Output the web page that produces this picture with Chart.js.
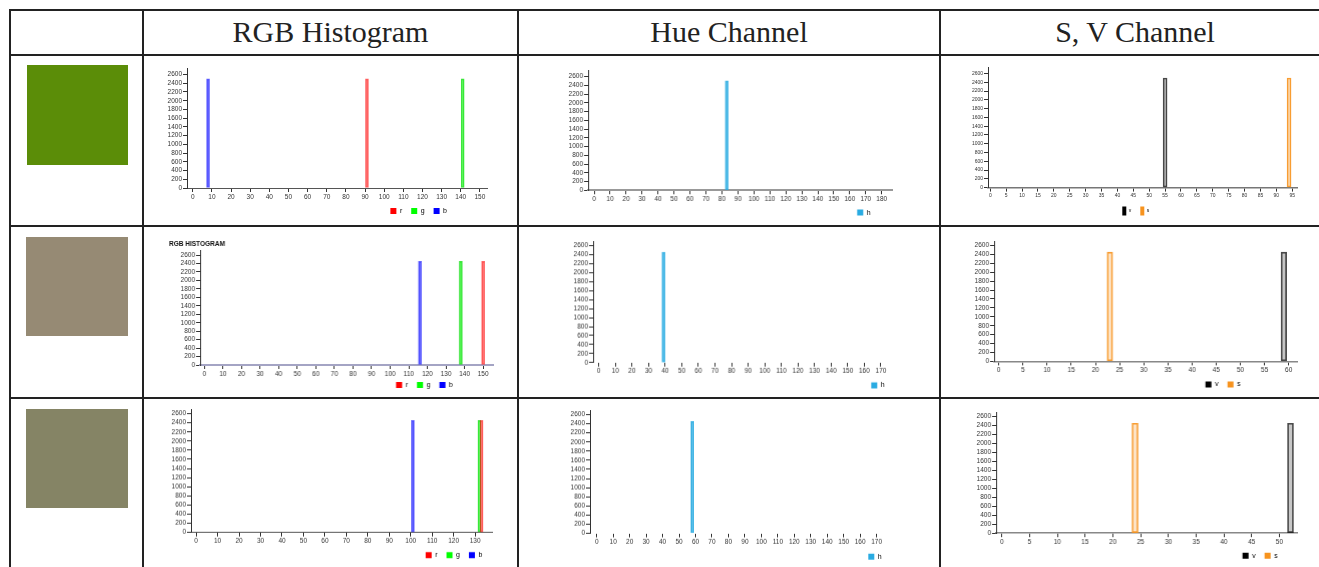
<!DOCTYPE html>
<html>
<head>
<meta charset="utf-8">
<title>Colour histograms</title>
<script src="https://cdn.jsdelivr.net/npm/chart.js"></script>
<style>
    body { margin: 0; background: #fff; }
    #page { position: relative; width: 1319px; height: 567px; overflow: hidden; background: #fff; }
    .hl { position: absolute; height: 2px; background: #222; }
    .vl { position: absolute; width: 2px; background: #222; }
    .head {
        position: absolute; top: 10px; height: 44px; line-height: 44px;
        text-align: center; font-family: "Liberation Serif", "Times New Roman", serif;
        font-size: 30px; color: #222;
    }
    .swatch, .box { position: absolute; }
</style>
</head>
<body>
<div id="page"></div>
<script>
    // values, one entry per table row
    const headers = ['RGB Histogram', 'Hue Channel', 'S, V Channel'];
    const redPeaks = [91, 150, 133];
    const greenPeaks = [141, 138, 132];
    const bluePeaks = [8, 116, 101];
    const huePeaks = [83, 39, 58];
    const satPeaks = [94, 23, 24];
    const valPeaks = [55, 59, 52];
    const pixelCounts = [2500, 2450, 2450];
    const yTops = [2750, 2700, 2700];

    const page = document.getElementById('page');

    // table grid
    const colX = [9, 142, 517, 939, 1329];
    const rowY = [9, 54, 225, 397, 620];
    colX.forEach(x => {
        const d = document.createElement('div');
        d.className = 'vl';
        d.style.left = x + 'px'; d.style.top = rowY[0] + 'px';
        d.style.height = (rowY[rowY.length - 1] - rowY[0]) + 'px';
        page.appendChild(d);
    });
    rowY.forEach(y => {
        const d = document.createElement('div');
        d.className = 'hl';
        d.style.top = y + 'px'; d.style.left = colX[0] + 'px';
        d.style.width = (colX[colX.length - 1] - colX[0] + 2) + 'px';
        page.appendChild(d);
    });
    headers.forEach((h, i) => {
        const d = document.createElement('div');
        d.className = 'head';
        d.textContent = h;
        d.style.left = (colX[i + 1] + 2) + 'px';
        d.style.width = (colX[i + 2] - colX[i + 1] - 2) + 'px';
        page.appendChild(d);
    });

    // colour swatches
    const swatchBoxes = [
        { x: 27, y: 65, w: 101, h: 100 },
        { x: 26, y: 237, w: 102, h: 99 },
        { x: 26, y: 409, w: 102, h: 99 }
    ];
    swatchBoxes.forEach((b, i) => {
        const d = document.createElement('div');
        d.className = 'swatch';
        Object.assign(d.style, { left: b.x + 'px', top: b.y + 'px', width: b.w + 'px', height: b.h + 'px' });
        d.style.background = `rgb(${redPeaks[i]},${greenPeaks[i]},${bluePeaks[i]})`;
        page.appendChild(d);
    });

    // moves the legend to a fixed spot (right end x, centre y)
    const legendPlace = {
        id: 'legendPlace',
        afterLayout(chart, args, opts) {
            const lg = chart.legend;
            if (!lg || opts.x == null) return;
            const h = lg.height;
            lg.top = opts.y - opts.pad - opts.itemH / 2;
            lg.bottom = lg.top + h;
            lg.left = 0;
            lg.right = opts.x + opts.pad;
        }
    };

    function histogram(L, datasets) {
        const yW = L.yW || 28, padT = 10, padR = 10, xH = 16;
        const fs = L.font || 6.5;
        const lf = L.legendFont || 7, lbw = L.boxW || 6, lbh = L.boxH || 6, lp = 9;
        const itemH = Math.max(lf, lbh);
        const legH = itemH + lp + 10;
        const titleH = L.title ? 10.8 : 0;
        const left = L.x0 - yW, top = L.y0 - padT - titleH;

        const box = document.createElement('div');
        box.className = 'box';
        box.style.left = left + 'px';
        box.style.top = top + 'px';
        box.style.width = (L.x1 + padR - left) + 'px';
        box.style.height = (L.y1 + xH + legH - top) + 'px';
        const canvas = document.createElement('canvas');
        box.appendChild(canvas);
        page.appendChild(box);

        const tickFont = { family: 'Liberation Sans', size: fs };
        const marks = { offset: false, drawOnChartArea: false, drawTicks: true, tickLength: 4, tickColor: '#333' };
        const plain = v => String(v);

        return new Chart(canvas, {
            type: 'bar',
            data: { datasets },
            plugins: [legendPlace],
            options: {
                responsive: true,
                maintainAspectRatio: false,
                animation: false,
                layout: { padding: { top: padT, right: padR, left: 0, bottom: 0 } },
                datasets: { bar: { barThickness: L.bar, grouped: false, borderSkipped: false, borderWidth: 1 } },
                scales: {
                    x: {
                        type: 'linear', offset: false, min: L.min, max: L.max,
                        afterFit: s => { s.height = xH; },
                        border: { color: L.xBorder, width: L.xBorderW || 1 },
                        grid: marks,
                        ticks: { stepSize: L.step, includeBounds: false, autoSkip: false, maxRotation: 0,
                                 padding: 1, color: '#333', font: tickFont, callback: plain }
                    },
                    y: {
                        min: 0, max: L.yTop,
                        afterFit: s => { s.width = yW; },
                        border: { color: '#333', width: 1 },
                        grid: marks,
                        ticks: { stepSize: 200, includeBounds: false, autoSkip: false,
                                 padding: 1, color: '#333', font: tickFont, callback: plain }
                    }
                },
                plugins: {
                    legend: {
                        position: 'bottom', align: 'end',
                        labels: {
                            boxWidth: lbw, boxHeight: lbh, padding: lp, color: '#222',
                            font: { family: 'Liberation Sans', size: lf },
                            generateLabels: chart => chart.data.datasets.map((d, i) => ({
                                text: d.label, fillStyle: d.legendColor, strokeStyle: d.legendColor,
                                lineWidth: 0, hidden: false, datasetIndex: i
                            }))
                        }
                    },
                    title: L.title ? {
                        display: true, text: L.title, align: 'start',
                        padding: { top: 0, bottom: 3 }, color: '#111',
                        font: { family: 'Liberation Sans', size: 6.5, weight: 'bold' }
                    } : { display: false },
                    tooltip: { enabled: false },
                    legendPlace: { x: L.lx - left, y: L.ly - top, pad: lp, itemH }
                }
            }
        });
    }

    // where each little chart sits on the page (axis corner, right end, top, zero line)
    const rgbLayout = [
        { x0: 187, x1: 487, y0: 68, y1: 188, min: -3, max: 153.7, lx: 447, ly: 211, bar: 3, xBorder: '#555' },
        { x0: 200, x1: 492.7, y0: 250.8, y1: 365, min: -2.3, max: 155.7, lx: 452, ly: 385, bar: 3,
          xBorder: '#a4a4c4', xBorderW: 2, yW: 31, title: 'RGB HISTOGRAM' },
        { x0: 190.7, x1: 492, y0: 409, y1: 531.7, min: -2.4, max: 138, lx: 482, ly: 554.3, bar: 3, xBorder: '#555' }
    ];
    const hueLayout = [
        { x0: 588.3, x1: 891.7, y0: 69.7, y1: 190, min: -3.8, max: 186.7, lx: 870, ly: 212.3, bar: 3,
          xBorder: '#999', xBorderW: 2 },
        { x0: 593.3, x1: 891.7, y0: 240.9, y1: 361.7, min: -3.4, max: 176.9, lx: 884, ly: 384.3, bar: 3,
          xBorder: 'rgba(0,0,0,0)' },
        { x0: 590, x1: 889, y0: 410.2, y1: 532.7, min: -4.07, max: 177.5, lx: 881.7, ly: 556, bar: 3,
          xBorder: 'rgba(0,0,0,0)' }
    ];
    const svLayout = [
        { x0: 987.7, x1: 1296.7, y0: 66.7, y1: 187.3, min: -0.72, max: 96.5, lx: 1149, ly: 210.7, bar: 4,
          xBorder: '#777', xBorderW: 1.5, font: 5, legendFont: 5, boxW: 4, boxH: 9 },
        { x0: 994.3, x1: 1296.7, y0: 240.6, y1: 361, min: -0.97, max: 61.8, lx: 1240, ly: 384, bar: 5.5,
          xBorder: '#888', xBorderW: 1.5 },
        { x0: 996, x1: 1296.7, y0: 411.5, y1: 532.7, min: -1.03, max: 53.3, lx: 1276.7, ly: 555.3, bar: 6,
          xBorder: '#888', xBorderW: 1.5 }
    ];

    for (let i = 0; i < 3; i++) {
        const n = pixelCounts[i];

        histogram(Object.assign({ step: 10, yTop: yTops[i] }, rgbLayout[i]), [
            { label: 'r', data: [{ x: redPeaks[i], y: n }], legendColor: '#ff0000',
              backgroundColor: 'rgba(255,0,0,0.25)', borderColor: 'rgba(255,0,0,0.6)' },
            { label: 'g', data: [{ x: greenPeaks[i], y: n }], legendColor: '#00ff00',
              backgroundColor: 'rgba(0,255,0,0.3)', borderColor: 'rgba(0,220,0,0.75)' },
            { label: 'b', data: [{ x: bluePeaks[i], y: n }], legendColor: '#0000ff',
              backgroundColor: 'rgba(0,0,255,0.35)', borderColor: 'rgba(0,0,255,0.6)' }
        ]);

        histogram(Object.assign({ step: 10, yTop: yTops[i] }, hueLayout[i]), [
            { label: 'h', data: [{ x: huePeaks[i], y: n }], legendColor: '#29abe2',
              backgroundColor: 'rgba(41,171,226,0.5)', borderColor: 'rgba(41,171,226,0.85)' }
        ]);

        histogram(Object.assign({ step: 5, yTop: yTops[i] }, svLayout[i]), [
            { label: 'v', data: [{ x: valPeaks[i], y: n }], legendColor: '#000000',
              backgroundColor: 'rgba(0,0,0,0.22)', borderColor: 'rgba(0,0,0,0.7)' },
            { label: 's', data: [{ x: satPeaks[i], y: n }], legendColor: '#f7931e',
              backgroundColor: 'rgba(247,147,30,0.25)', borderColor: 'rgba(247,147,30,0.9)' }
        ]);
    }
</script>
</body>
</html>
